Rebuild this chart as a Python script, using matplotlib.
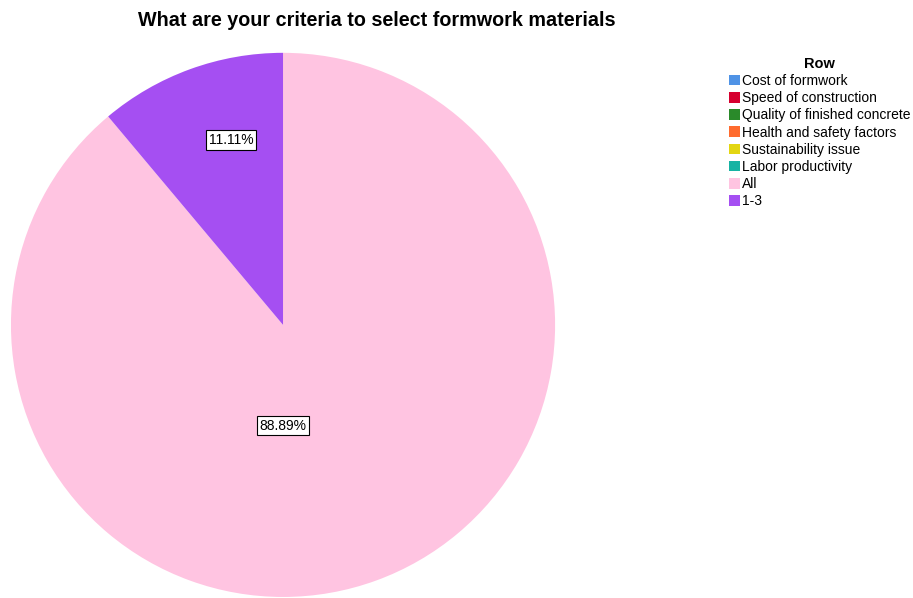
import matplotlib
matplotlib.use("Agg")
import matplotlib.pyplot as plt
from matplotlib.patches import Patch

plt.rcParams['font.family'] = ['Liberation Sans', 'DejaVu Sans']

categories = ["Cost of formwork", "Speed of construction", "Quality of finished concrete",
              "Health and safety factors", "Sustainability issue", "Labor productivity",
              "All", "1-3"]
values = [0, 0, 0, 0, 0, 0, 8, 1]
colors = ["#4f93e6", "#d6002f", "#2a8a2a", "#ff6b2e", "#e3d612", "#16b3a3", "#ffc4e1", "#a54ff2"]
title = "What are your criteria to select formwork materials"

fig = plt.figure(figsize=(9.13, 5.98), dpi=100)
ax = fig.add_axes([0.012, 0.0017, 0.596, 0.910])

def fmt(p):
    return "" if p < 0.01 else f"{p:.2f}%"

wedges, texts, autotexts = ax.pie(values, colors=colors, startangle=90, counterclock=False,
                                  autopct=fmt, pctdistance=0.71,
                                  wedgeprops=dict(linewidth=0))
for t in autotexts:
    t.set_fontsize(10)
    t.set_bbox(dict(boxstyle="square,pad=0.2", facecolor="white", edgecolor="black", linewidth=0.8))
# SPSS-style label placement
big = values.index(max(values))
small = values.index(min(v for v in values if v > 0))
autotexts[big].set_position((0, -0.37))
autotexts[small].set_position((-0.19, 0.68))
ax.set_xlim(-1, 1)
ax.set_ylim(-1, 1)
ax.set_aspect("equal")

fig.text(0.413, 0.966, title, ha="center", va="center", fontsize=14.2, fontweight="bold")

handles = [Patch(facecolor=c, edgecolor="none") for c in colors]
leg = fig.legend(handles, categories, title="Row", loc="upper left",
                 bbox_to_anchor=(0.798, 0.905), frameon=False, fontsize=10,
                 handlelength=0.8, handleheight=0.8, handletextpad=0.2,
                 labelspacing=0.23, borderpad=0, borderaxespad=0)
leg.get_title().set_fontweight("bold")
leg.get_title().set_fontsize(10.5)

fig.savefig("out.png", dpi=100)
